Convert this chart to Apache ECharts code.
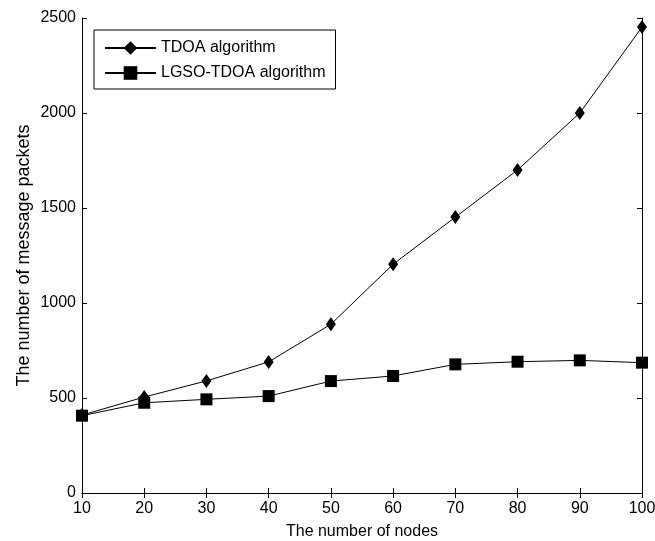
<!DOCTYPE html>
<html>
<head>
<meta charset="utf-8">
<script src="https://cdn.jsdelivr.net/npm/echarts@6/dist/echarts.min.js"></script>
<style>
  html, body { margin: 0; padding: 0; background: #fff; }
  #chart { width: 655px; height: 541px; }
</style>
</head>
<body>
<div id="chart"></div>
<script>
// Number of nodes in the network
var nodes = [10, 20, 30, 40, 50, 60, 70, 80, 90, 100];
// Message packets needed by each algorithm
var tdoa = [410, 505, 590, 690, 888, 1204, 1452, 1700, 2000, 2452];
var lgsoTdoa = [407, 475, 493, 510, 589, 616, 677, 691, 698, 686];

var seriesNames = ['TDOA algorithm', 'LGSO-TDOA algorithm'];
var xTitle = 'The number of nodes';
var yTitle = 'The number of message packets';

var FONT = 'Liberation Sans, Arial, sans-serif';

function pairs(xs, ys) {
  return xs.map(function (x, i) { return [x, ys[i]]; });
}
function plain(v) { return String(v); }

var tickStyle = { show: true, inside: true, length: 5, lineStyle: { color: '#000', width: 1 } };
var lineStyleAxis = { show: true, lineStyle: { color: '#000', width: 1 } };
var labelStyle = { color: '#000', fontFamily: FONT, fontSize: 16, formatter: plain };

var chart = echarts.init(document.getElementById('chart'), null, { renderer: 'canvas' });
chart.setOption({
  animation: false,
  backgroundColor: '#fff',
  grid: { left: 82, right: 13, top: 18, bottom: 48, containLabel: false, outerBoundsMode: 'none' },
  legend: {
    orient: 'vertical',
    left: 94,
    top: 30,
    padding: [10, 10, 8, 10],
    itemGap: 9,
    itemWidth: 51,
    itemHeight: 17,
    borderColor: '#000',
    borderWidth: 1,
    backgroundColor: '#fff',
    textStyle: { color: '#000', fontFamily: FONT, fontSize: 16 },
    data: seriesNames
  },
  xAxis: [{
    type: 'value', min: 10, max: 100, interval: 10,
    position: 'bottom',
    axisLine: lineStyleAxis, axisTick: tickStyle,
    axisLabel: Object.assign({ margin: 8 }, labelStyle),
    splitLine: { show: false },
    name: xTitle, nameLocation: 'middle', nameGap: 31, nameMoveOverlap: false,
    nameTextStyle: { color: '#000', fontFamily: FONT, fontSize: 16 }
  }, {
    type: 'value', min: 10, max: 100, interval: 10,
    position: 'top',
    axisLine: lineStyleAxis, axisTick: tickStyle,
    axisLabel: { show: false }, splitLine: { show: false }
  }],
  yAxis: [{
    type: 'value', min: 0, max: 2500, interval: 500,
    position: 'left',
    axisLine: lineStyleAxis, axisTick: tickStyle,
    axisLabel: Object.assign({ margin: 6 }, labelStyle),
    splitLine: { show: false },
    name: yTitle, nameLocation: 'middle', nameGap: 49, nameRotate: 90, nameMoveOverlap: false,
    nameTextStyle: { color: '#000', fontFamily: FONT, fontSize: 18 }
  }, {
    type: 'value', min: 0, max: 2500, interval: 500,
    position: 'right',
    axisLine: lineStyleAxis, axisTick: tickStyle,
    axisLabel: { show: false }, splitLine: { show: false }
  }],
  series: [{
    name: seriesNames[0],
    type: 'line',
    data: pairs(nodes, tdoa),
    symbol: 'diamond',
    symbolSize: [10, 14],
    showAllSymbol: true,
    lineStyle: { color: '#000', width: 1 },
    itemStyle: { color: '#000', borderWidth: 0 },
    z: 3
  }, {
    name: seriesNames[1],
    type: 'line',
    data: pairs(nodes, lgsoTdoa),
    symbol: 'rect',
    symbolSize: 12,
    showAllSymbol: true,
    lineStyle: { color: '#000', width: 1 },
    itemStyle: { color: '#000', borderWidth: 0 },
    z: 2
  }]
});
</script>
</body>
</html>
